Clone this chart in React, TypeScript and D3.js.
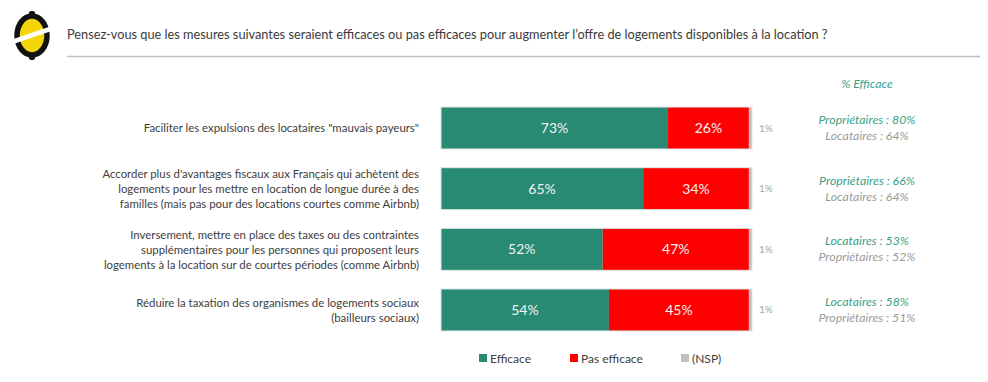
import React from "react";
import * as d3 from "d3";

const categories: string[][] = [
  ['Faciliter les expulsions des locataires "mauvais payeurs"'],
  [
    "Accorder plus d'avantages fiscaux aux Français qui achètent des",
    "logements pour les mettre en location de longue durée à des",
    "familles (mais pas pour des locations courtes comme Airbnb)",
  ],
  [
    "Inversement, mettre en place des taxes ou des contraintes",
    "supplémentaires pour les personnes qui proposent leurs",
    "logements à la location sur de courtes périodes (comme Airbnb)",
  ],
  ["Réduire la taxation des organismes de logements sociaux", "(bailleurs sociaux)"],
];
const efficace = [73, 65, 52, 54];
const pasEfficace = [26, 34, 47, 45];
const nsp = [1, 1, 1, 1];
const groupTop = ["Propriétaires : 80%", "Propriétaires : 66%", "Locataires : 53%", "Locataires : 58%"];
const groupBottom = ["Locataires : 64%", "Locataires : 64%", "Propriétaires : 52%", "Propriétaires : 51%"];
const legendLabels = ["Efficace", "Pas efficace", "(NSP)"];
const title =
  "Pensez-vous que les mesures suivantes seraient efficaces ou pas efficaces pour augmenter l’offre de logements disponibles à la location ?";

const COLORS = ["#288A72", "#FF0000", "#C0C0C0"];
const FONT = "Lato, 'Open Sans', sans-serif";

export default function App() {
  const W = 988, H = 382;
  const x = d3.scaleLinear().domain([0, 100]).range([441, 752]);
  const y = d3
    .scaleBand<number>()
    .domain(d3.range(categories.length))
    .range([97.7, 340.3])
    .paddingInner(0.308)
    .paddingOuter(0.154);
  const bw = y.bandwidth();
  const stack = categories.map((_, i) => {
    const v = [efficace[i], pasEfficace[i], nsp[i]];
    let acc = 0;
    return v.map((val) => {
      const s = acc;
      acc += val;
      return { s, e: acc, val };
    });
  });
  const legendX = [479, 570, 681];

  return (
    <svg
      width={W}
      height={H}
      style={{ position: "absolute", left: 0, top: 0, background: "#fff" }}
      fontFamily={FONT}
    >
      <rect width={W} height={H} fill="#fff" />
      {/* logo */}
      <g>
        <rect x={29} y={11} width={6} height={5} rx={2} fill="#111" />
        <rect x={29} y={55} width={6} height={5} rx={2} fill="#111" />
        <ellipse cx={32} cy={35.5} rx={15} ry={19.5} fill="#F5D50A" stroke="#111" strokeWidth={5.5} />
        <line x1={12} y1={42} x2={53} y2={28} stroke="#fff" strokeWidth={4.5} />
      </g>
      <text x={67} y={39} fontSize={12.75} fill="#3a3a3a">
        {title}
      </text>
      <line x1={67} x2={980} y1={56.5} y2={56.5} stroke="#bfbfbf" strokeWidth={1.5} />

      <text x={867} y={88} fontSize={12.3} fontStyle="italic" fill="#3aa088" textAnchor="middle">
        % Efficace
      </text>

      {categories.map((lines, i) => {
        const y0 = y(i)!;
        const cy = y0 + bw / 2;
        const lh = 15;
        return (
          <g key={i}>
            {lines.map((ln, j) => (
              <text
                key={j}
                x={419}
                y={cy + (j - (lines.length - 1) / 2) * lh + 4.2}
                fontSize={11.4}
                fill="#404040"
                textAnchor="end"
              >
                {ln}
              </text>
            ))}
            {stack[i].map((seg, k) => (
              <rect
                key={k}
                x={x(seg.s)}
                y={y0}
                width={x(seg.e) - x(seg.s)}
                height={bw}
                fill={COLORS[k]}
              />
            ))}
            <rect
              x={x(0)}
              y={y0}
              width={x(100) - x(0)}
              height={bw}
              fill="none"
              stroke="#dde8e4"
              strokeWidth={1}
            />
            {stack[i].slice(0, 2).map((seg, k) => (
              <text
                key={k}
                x={(x(seg.s) + x(seg.e)) / 2}
                y={cy + 5}
                fontSize={14}
                fill="#f2f2f2"
                textAnchor="middle"
              >
                {seg.val}%
              </text>
            ))}
            <text x={759} y={cy + 3.5} fontSize={10} fill="#a6a6a6">
              {nsp[i]}%
            </text>
            <text x={867} y={cy - 4} fontSize={12.3} fontStyle="italic" fill="#3aa088" textAnchor="middle">
              {groupTop[i]}
            </text>
            <text x={867} y={cy + 12} fontSize={12.3} fontStyle="italic" fill="#9a9a9a" textAnchor="middle">
              {groupBottom[i]}
            </text>
          </g>
        );
      })}

      {legendLabels.map((l, i) => (
        <g key={l}>
          <rect x={legendX[i]} y={354} width={8} height={8} fill={COLORS[i]} />
          <text x={legendX[i] + 11} y={362.5} fontSize={12} fill="#404040">
            {l}
          </text>
        </g>
      ))}
    </svg>
  );
}
